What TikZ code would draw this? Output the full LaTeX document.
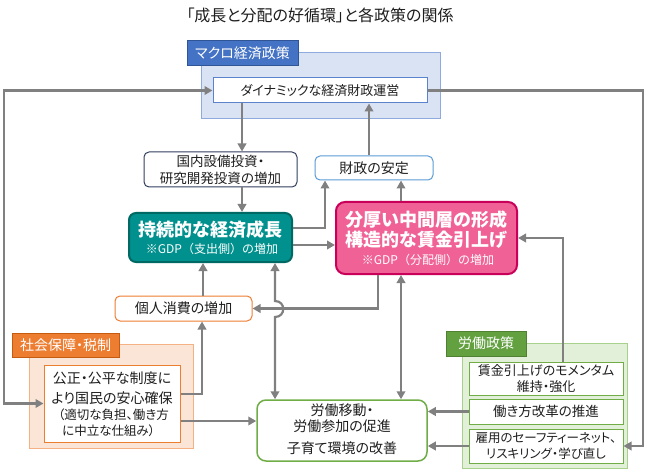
\documentclass[tikz,border=0pt]{standalone}
\usepackage{fontspec}
\setmainfont{Noto Sans CJK JP}[RawFeature={+palt}]
\newfontfamily\jpfull{Noto Sans CJK JP}
\usetikzlibrary{arrows.meta}
\definecolor{arrg}{RGB}{128,128,128}
\definecolor{macroF}{RGB}{218,227,243}
\definecolor{macroB}{RGB}{143,170,220}
\definecolor{macroT}{RGB}{68,114,196}
\definecolor{macroTB}{RGB}{47,85,151}
\definecolor{innerB}{RGB}{90,130,205}
\definecolor{navyB}{RGB}{50,62,95}
\definecolor{finB}{RGB}{91,155,213}
\definecolor{tealF}{RGB}{0,145,142}
\definecolor{tealB}{RGB}{0,105,100}
\definecolor{pinkF}{RGB}{240,98,150}
\definecolor{pinkB}{RGB}{200,0,90}
\definecolor{orgB}{RGB}{237,125,49}
\definecolor{orgF}{RGB}{251,229,214}
\definecolor{orgOB}{RGB}{244,177,131}
\definecolor{orgTB}{RGB}{197,90,17}
\definecolor{grnB}{RGB}{112,173,71}
\definecolor{grnF}{RGB}{226,240,217}
\definecolor{grnOB}{RGB}{169,209,142}
\definecolor{grnT}{RGB}{98,160,64}
\definecolor{grnTB}{RGB}{80,128,50}
\definecolor{txt}{RGB}{30,30,30}
\newcommand\fsz[2]{\fontsize{#1pt}{#2pt}\selectfont}
\begin{document}
\begin{tikzpicture}[x=1pt,y=-1pt,
  bx/.style={draw, inner sep=0pt, align=center, text=txt, line width=1pt},
  arr/.style={draw=arrg, line width=2.2pt, -{Triangle[length=8pt,width=8.5pt]}},
  arrb/.style={draw=arrg, line width=2.2pt, {Triangle[length=8pt,width=8.5pt]}-{Triangle[length=8pt,width=8.5pt]}},
  tabbox/.style={draw, inner sep=0pt, text=white, line width=1pt, font=\fsz{14}{16}},
  tx/.style={inner sep=0pt, text=txt}
]
\useasboundingbox (0,0) rectangle (650,470);

% title
\node[tx, font=\fsz{16}{18}] (title) at (320,15) {「成長と分配の好循環」と各政策の関係};

% macro policy group
\node[bx, draw=macroB, fill=macroF, minimum width=239pt, minimum height=66pt] (macro) at (320.5,86) {};
\node[tabbox, draw=macroTB, fill=macroT, minimum width=111pt, minimum height=25pt] (macrotab) at (242.5,53.5) {マクロ経済政策};
\node[bx, draw=innerB, fill=white, minimum width=214pt, minimum height=25pt, font=\fsz{13}{16}] (dyn) at (320,90.5) {ダイナミックな経済財政運営};

% middle boxes
\node[bx, draw=navyB, fill=white, rounded corners=5pt, minimum width=153pt, minimum height=35pt, font=\fsz{13.5}{17}] (dom) at (220.5,169.5) {国内設備投資・\\研究開発投資の増加};
\node[bx, draw=finB, fill=white, rounded corners=5pt, minimum width=118pt, minimum height=24pt, font=\fsz{14}{16}] (fin) at (374,168) {財政の安定};

\node[bx, draw=tealB, fill=tealF, line width=2pt, rounded corners=7pt, minimum width=163pt, minimum height=49pt] (teal) at (210.5,237.5) {};
\node[tx, text=white, font=\bfseries\fsz{18}{20}] (teal1) at (210.5,229.5) {持続的な経済成長};
\node[tx, text=white, font=\jpfull\fsz{12}{14}] (teal2) at (212,248.5) {※GDP（支出側）の増加};

\node[bx, draw=pinkB, fill=pinkF, line width=2pt, rounded corners=9pt, minimum width=181pt, minimum height=72pt] (pink) at (426.5,238) {};
\node[tx, text=white, font=\bfseries\fsz{18}{20}] (pink1) at (426.5,219.5) {分厚い中間層の形成};
\node[tx, text=white, font=\bfseries\fsz{18}{20}] (pink2) at (426.5,240) {構造的な賃金引上げ};
\node[tx, text=white, font=\jpfull\fsz{12}{14}] (pink3) at (428,260) {※GDP（分配側）の増加};

\node[bx, draw=orgB, fill=white, rounded corners=5pt, minimum width=137pt, minimum height=25pt, font=\fsz{14}{16}] (cons) at (183.5,308.5) {個人消費の増加};

% social security group
\node[bx, draw=orgOB, fill=orgF, minimum width=164pt, minimum height=104pt] (soc) at (111,396) {};
\node[tabbox, draw=orgTB, fill=orgB, minimum width=107pt, minimum height=24pt] (soctab) at (65.5,345) {社会保障・税制};
\node[bx, draw=orgB, fill=white, minimum width=136pt, minimum height=77pt] (pub) at (112,403.5) {};
\node[tx, font=\fsz{14}{16}] (pub1) at (112,378) {公正・公平な制度に};
\node[tx, font=\fsz{14}{16}] (pub2) at (112,398) {より国民の安心確保};
\node[tx, font=\fsz{12.5}{14}, anchor=west] (pub3) at (58,414.5) {（適切な負担、働き方};
\node[tx, font=\fsz{12.5}{14}, anchor=west] (pub4) at (62,430.5) {に中立な仕組み）};

% labour mobility box
\node[bx, draw=grnB, fill=white, line width=1.5pt, rounded corners=9pt, minimum width=170pt, minimum height=61pt] (lab) at (342,430.5) {};
\node[tx, font=\fsz{14}{16}] (lab1) at (342,410) {労働移動・};
\node[tx, font=\fsz{14}{16}] (lab2) at (342,426) {労働参加の促進};
\node[tx, font=\fsz{14}{16}] (lab3) at (342,448) {子育て環境の改善};

% labour policy group
\node[bx, draw=grnOB, fill=grnF, minimum width=165pt, minimum height=125pt] (lpol) at (544.5,405.5) {};
\node[tabbox, draw=grnTB, fill=grnT, minimum width=80pt, minimum height=25pt] (lpoltab) at (486,343.5) {労働政策};
\node[bx, draw=grnB, fill=white, minimum width=154pt, minimum height=33pt, font=\fsz{13}{16}] (b1) at (546,378.5) {賃金引上げのモメンタム\\維持・強化};
\node[bx, draw=grnB, fill=white, minimum width=154pt, minimum height=25pt, font=\fsz{13.5}{16}] (b2) at (546,411.5) {働き方改革の推進};
\node[bx, draw=grnB, fill=white, minimum width=154pt, minimum height=34pt, font=\fsz{12.5}{16}] (b3) at (546,446) {雇用のセーフティーネット、\\リスキリング・学び直し};

% helper coordinates
\coordinate (L) at (4,90.5);
\coordinate (R) at (643,90.5);
\coordinate (x242) at (242,0);
\coordinate (x369) at (369,0);
\coordinate (x325) at (325,0);
\coordinate (x401) at (401,0);
\coordinate (x378) at (378,0);
\coordinate (x275) at (275,0);
\coordinate (x203) at (203,0);
\coordinate (x202) at (202,0);
\coordinate (x563) at (563,0);
\coordinate (y228) at (0,228);
\coordinate (y245) at (0,245);
\coordinate (y394) at (0,394);
\coordinate (y421) at (0,421);
\coordinate (hopA) at (275,301);
\coordinate (hopB) at (275,317);
\coordinate (hopC1) at (286,301);
\coordinate (hopC2) at (286,317);

% connectors
\draw[arrb] (dyn.west) -- (L) |- (pub.west);
\draw[arr] (dyn.east) -- (R) |- (b3.east);
\draw[arr] (dyn.south -| x242) -- (dom.north -| x242);
\draw[arr] (fin.north -| x369) -- (dyn.south -| x369);
\draw[arr] (dom.south -| x242) -- (teal.north -| x242);
\draw[arr] (teal.east |- y228) -| (fin.south -| x325);
\draw[arr] (teal.east |- y245) -- (pink.west |- y245);
\draw[arr] (pink.north -| x401) -- (fin.south -| x401);
\draw[arr] (pink.south -| x378) |- (cons.east);
\draw[arrb] (teal.south -| x275) -- (hopA) .. controls (hopC1) and (hopC2) .. (hopB) -- (lab.north -| x275);
\draw[arr] (cons.north -| x203) -- (teal.south -| x203);
\draw[arrb] (pink.south -| x401) -- (lab.north -| x401);
\draw[arr] (pub.east |- y394) -| (cons.south -| x202);
\draw[arr] (pub.east |- y421) -- (lab.west |- y421);
\draw[arr] (b1.north -| x563) |- (pink.east);
\draw[arr] (b2.west) -- (b2.west -| lab.east);
\draw[arr] (b3.west) -- (b3.west -| lab.east);
\end{tikzpicture}
\end{document}
